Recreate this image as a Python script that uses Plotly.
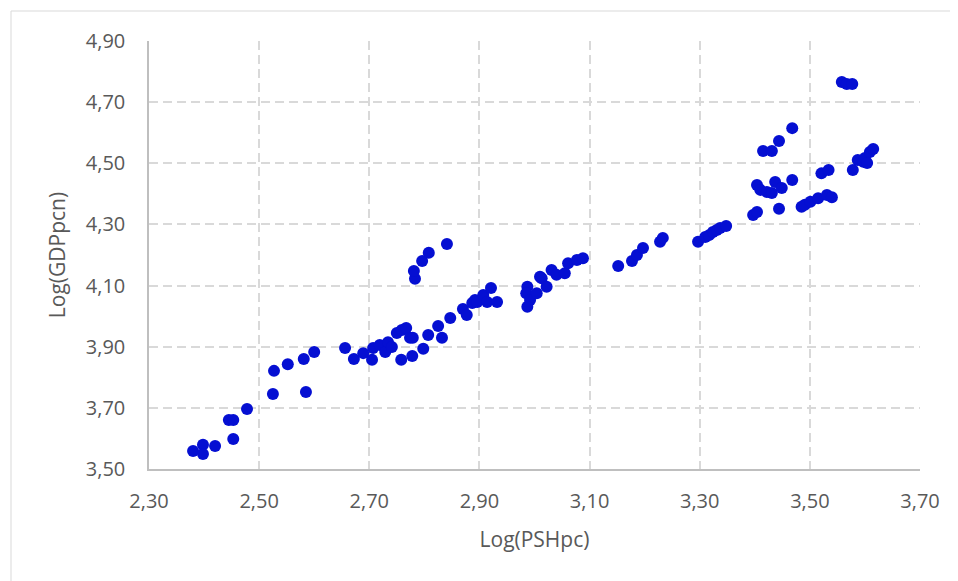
import plotly.graph_objects as go

# Log(PSHpc)
pshpc = [
    2.380, 2.398, 2.398, 2.420, 2.453, 2.445, 2.453, 2.478, 2.525, 2.585,
    2.527, 2.552, 2.581, 2.600, 2.656, 2.672, 2.689, 2.705, 2.707, 2.719,
    2.729, 2.734, 2.741, 2.750, 2.759, 2.767, 2.774, 2.779, 2.758, 2.778,
    2.798, 2.807, 2.832, 2.825, 2.847, 2.870, 2.877, 2.887, 2.892, 2.896,
    2.907, 2.914, 2.921, 2.932,
    2.987, 2.985, 2.992, 2.987, 3.004, 3.010, 3.013, 3.022, 3.031, 3.040,
    3.055, 3.061, 3.077, 3.088,
    2.783, 2.781, 2.796, 2.808, 2.841,
    3.152, 3.177, 3.186, 3.197, 3.228, 3.233, 3.297, 3.310, 3.317, 3.324,
    3.331, 3.337, 3.348,
    3.397, 3.404, 3.444, 3.404, 3.410, 3.422, 3.431, 3.437, 3.449, 3.468,
    3.485, 3.491, 3.501, 3.515, 3.531, 3.540, 3.521, 3.534,
    3.415, 3.431, 3.444, 3.468,
    3.578, 3.587, 3.597, 3.600, 3.604, 3.609, 3.615,
    3.558, 3.567, 3.577,
]

# Log(GDPpcn)
gdppcn = [
    3.559, 3.579, 3.549, 3.575, 3.598, 3.660, 3.660, 3.696, 3.745, 3.752,
    3.821, 3.843, 3.860, 3.883, 3.896, 3.860, 3.879, 3.857, 3.896, 3.906,
    3.883, 3.915, 3.899, 3.945, 3.955, 3.961, 3.929, 3.929, 3.857, 3.870,
    3.893, 3.938, 3.929, 3.968, 3.994, 4.023, 4.004, 4.043, 4.053, 4.046,
    4.069, 4.046, 4.092, 4.046,
    4.096, 4.075, 4.053, 4.031, 4.075, 4.129, 4.124, 4.096, 4.151, 4.135,
    4.140, 4.173, 4.184, 4.189,
    4.122, 4.148, 4.180, 4.207, 4.236,
    4.164, 4.180, 4.200, 4.223, 4.243, 4.256, 4.243, 4.259, 4.265, 4.275,
    4.282, 4.288, 4.295,
    4.331, 4.341, 4.351, 4.429, 4.413, 4.406, 4.403, 4.439, 4.419, 4.445,
    4.358, 4.364, 4.374, 4.386, 4.396, 4.389, 4.467, 4.478,
    4.540, 4.540, 4.573, 4.615,
    4.478, 4.511, 4.505, 4.517, 4.501, 4.537, 4.547,
    4.766, 4.759, 4.759,
]

x_ticks = [2.30, 2.50, 2.70, 2.90, 3.10, 3.30, 3.50, 3.70]
y_ticks = [3.50, 3.70, 3.90, 4.10, 4.30, 4.50, 4.70, 4.90]

FONT = "Open Sans"
GRAY = "#595959"

fig = go.Figure()
fig.add_trace(go.Scatter(
    x=pshpc, y=gdppcn, mode="markers",
    marker=dict(size=12, color="rgb(5,15,210)", line=dict(width=0)),
    showlegend=False,
))

fig.update_layout(
    width=950, height=573,
    margin=dict(l=141, r=38, t=33, b=112),
    paper_bgcolor="white", plot_bgcolor="white",
    separators=",.",
    font=dict(family=FONT, size=20, color=GRAY),
    xaxis=dict(
        range=[2.30, 3.70], tickvals=x_ticks, tickformat=".2f",
        showgrid=True, gridcolor="#d9d9d9", gridwidth=1.5, griddash="9px,5px",
        showline=True, linecolor="#bfbfbf", linewidth=1.5,
        ticks="outside", ticklen=13, tickcolor="rgba(0,0,0,0)",
        zeroline=False,
        title=dict(text="Log(PSHpc)", standoff=20, font=dict(size=21, color=GRAY)),
    ),
    yaxis=dict(
        range=[3.50, 4.90], tickvals=y_ticks, tickformat=".2f",
        showgrid=True, gridcolor="#d9d9d9", gridwidth=1.5, griddash="9px,5px",
        showline=True, linecolor="#bfbfbf", linewidth=1.5,
        ticks="outside", ticklen=18, tickcolor="rgba(0,0,0,0)",
        zeroline=False,
        title=dict(text="Log(GDPpcn)", standoff=14, font=dict(size=21, color=GRAY)),
    ),
    shapes=[dict(
        type="rect", xref="paper", yref="paper",
        x0=(11 - 149) / 771, x1=(965 - 149) / 771,
        y0=(469 - 590) / 428, y1=(469 - 11) / 428,
        line=dict(color="#d9d9d9", width=1), fillcolor="rgba(0,0,0,0)",
        layer="below",
    )],
)

fig.write_html("out.html")
